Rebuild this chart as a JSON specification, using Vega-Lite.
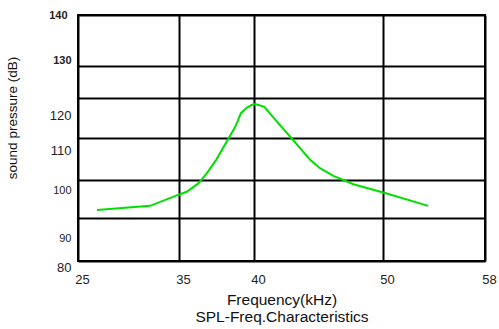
{
  "$schema": "https://vega.github.io/schema/vega-lite/v6.json",
  "autosize": {"type": "none"},
  "padding": {"left": 78, "top": 15, "right": 14, "bottom": 68},
  "width": 407,
  "height": 246,
  "background": "white",
  "config": {
    "font": "Liberation Sans",
    "view": {"stroke": "black", "strokeWidth": 2},
    "axis": {"labelFont": "Liberation Sans", "titleFont": "Liberation Sans", "labelColor": "#222", "titleColor": "#111", "titleFontWeight": "normal"}
  },
  "data": {"values": [
    {"f": 26.88, "spl": 92.1},
    {"f": 32.14, "spl": 93.2},
    {"f": 35.02, "spl": 96.2},
    {"f": 35.52, "spl": 96.9},
    {"f": 36.29, "spl": 99.1},
    {"f": 36.85, "spl": 101.6},
    {"f": 37.48, "spl": 104.8},
    {"f": 38.75, "spl": 112.8},
    {"f": 39.13, "spl": 116.2},
    {"f": 39.53, "spl": 117.6},
    {"f": 39.87, "spl": 118.3},
    {"f": 40.10, "spl": 118.5},
    {"f": 40.80, "spl": 117.8},
    {"f": 41.78, "spl": 114.1},
    {"f": 43.06, "spl": 109.4},
    {"f": 44.35, "spl": 104.8},
    {"f": 45.12, "spl": 102.8},
    {"f": 46.15, "spl": 101.0},
    {"f": 46.92, "spl": 100.0},
    {"f": 47.70, "spl": 98.9},
    {"f": 50.02, "spl": 96.7},
    {"f": 53.55, "spl": 93.2}
  ]},
  "mark": {"type": "line", "color": "#00e000", "strokeWidth": 2},
  "encoding": {
    "x": {
      "field": "f", "type": "quantitative",
      "scale": {"domain": [25, 35, 40, 50, 58], "range": [0, 101, 176, 305, 407], "nice": false, "zero": false},
      "axis": {
        "values": [25, 35, 40, 50, 58],
        "grid": true, "gridColor": "black", "gridWidth": 2, "gridOpacity": 1,
        "domain": false, "ticks": false,
        "labelFlush": false, "labelBound": false, "labelOverlap": false,
        "labelFontSize": 13, "labelOffset": 4, "labelPadding": 12,
        "title": ["Frequency(kHz)", "SPL-Freq.Characteristics"],
        "titleFontSize": 15.5, "titlePadding": 6, "titleLineHeight": 17
      }
    },
    "y": {
      "field": "spl", "type": "quantitative",
      "scale": {"domain": [80, 90, 100, 110, 120, 130, 140], "range": [246, 203, 165, 123, 83, 51, 0], "nice": false, "zero": false},
      "axis": {
        "values": [80, 90, 100, 110, 120, 130, 140],
        "grid": true, "gridColor": "black", "gridWidth": 2, "gridOpacity": 1,
        "domain": false, "ticks": false,
        "labelOverlap": false,
        "labelPadding": {"condition": {"test": "datum.value == 140", "value": 11}, "value": 7},
        "labelFontSize": {"condition": [{"test": "datum.value == 90 || datum.value == 100 || datum.value >= 130", "value": 11}], "value": 13},
        "labelFontWeight": {"condition": {"test": "datum.value >= 130", "value": "bold"}, "value": "normal"},
        "labelOffset": {"condition": [
          {"test": "datum.value == 80", "value": 6},
          {"test": "datum.value == 90", "value": 20},
          {"test": "datum.value == 100", "value": 10},
          {"test": "datum.value == 110", "value": 12},
          {"test": "datum.value == 120", "value": 17},
          {"test": "datum.value == 130", "value": -6}
        ], "value": 0},
        "title": "sound pressure (dB)",
        "titleFontSize": 13.5, "titleX": -59, "titleY": 102.5
      }
    }
  }
}
